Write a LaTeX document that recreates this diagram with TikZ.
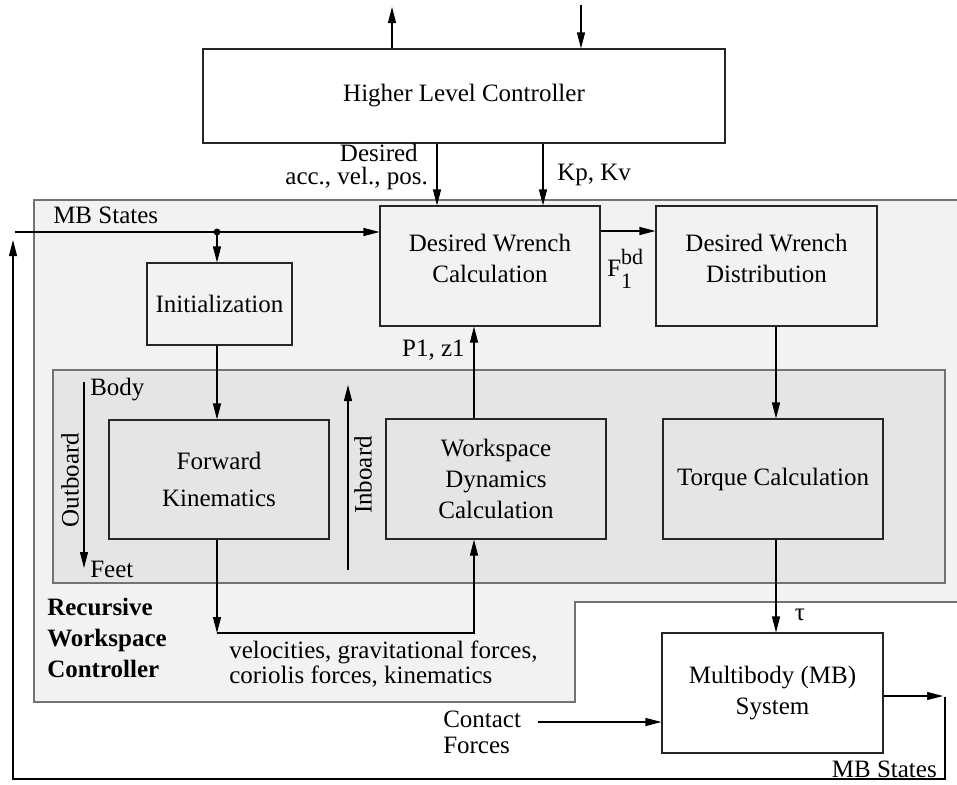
\documentclass[tikz,border=0pt]{standalone}
\usepackage{fontspec}
\setmainfont{Liberation Serif}
\usetikzlibrary{arrows.meta,calc}

\begin{document}
\begin{tikzpicture}[x=0.75pt,y=0.75pt,yscale=-1,xscale=1,
  font=\fontsize{18.75}{23.25}\selectfont,
  blk/.style={draw=black!85,line width=0.8pt,align=center,inner sep=0pt},
  arr/.style={line width=0.8pt,-{Triangle[length=12pt,width=6pt]}},
  region/.style={draw=black!55,line width=0.8pt}]
\useasboundingbox (0,0) rectangle (957,785);
%Shape: Polygon [outer region]
\draw [region,fill={rgb, 255:red, 242; green, 242; blue, 242 }] (34,200) -- (975,200) -- (975,602) -- (575,602) -- (575,702) -- (34,702) -- cycle ;
%Shape: Rectangle [inner region]
\draw [region,fill={rgb, 255:red, 229; green, 229; blue, 229 }] (53,370) rectangle (945,583) ;

%Shape: Rectangle
\node [blk,fill=white,minimum width=391.5pt,minimum height=70.5pt] (hlc) at (464,96) {Higher Level Controller};
\node [blk,fill={rgb, 255:red, 242; green, 242; blue, 242 },minimum width=165pt,minimum height=90pt] (dwc) at (490,266) {Desired Wrench\\Calculation\\[-11pt]};
\node [blk,fill={rgb, 255:red, 242; green, 242; blue, 242 },minimum width=165.75pt,minimum height=90pt] (dwd) at (766.5,266) {Desired Wrench\\Distribution\\[-11pt]};
\node [blk,fill={rgb, 255:red, 242; green, 242; blue, 242 },minimum width=108.75pt,minimum height=61.5pt] (init) at (219.5,304) {Initialization};
\node [blk,fill={rgb, 255:red, 229; green, 229; blue, 229 },minimum width=165pt,minimum height=89.25pt] (fk) at (219,479.5) {Forward\\[5pt]Kinematics};
\node [blk,fill={rgb, 255:red, 229; green, 229; blue, 229 },minimum width=165pt,minimum height=90pt] (wdc) at (496,479) {Workspace\\Dynamics\\Calculation};
\node [blk,fill={rgb, 255:red, 229; green, 229; blue, 229 },minimum width=165pt,minimum height=90pt] (tc) at (773,479) {Torque Calculation};
\node [blk,fill=white,minimum width=165.75pt,minimum height=90pt] (mb) at (772.5,693) {Multibody (MB)\\System};

%Text labels
\node [anchor=base east,inner sep=0pt] (desired) at (418,161) {Desired};
\node [anchor=base east,inner sep=0pt] (acc) at (428,184) {acc., vel., pos.};
\node [anchor=base west,inner sep=0pt] (kpkv) at (557,180) {Kp, Kv};
\node [anchor=base west,inner sep=0pt] (mbs) at (53,223) {MB States};
\node [anchor=base west,inner sep=0pt] (fbd) at (607,276) {F\rlap{\raisebox{9pt}{\fontsize{16.5}{18}\selectfont bd}}\raisebox{-9pt}{\fontsize{16.5}{18}\selectfont 1}};
\node [anchor=base east,inner sep=0pt] (p1z1) at (465,356) {P1, z1};
\node [anchor=base west,inner sep=0pt] (body) at (90,395) {Body};
\node [anchor=base west,inner sep=0pt] (feet) at (90,577) {Feet};
\node [rotate=90,inner sep=0pt] (outb) at (70,480) {Outboard};
\node [rotate=90,inner sep=0pt] (inb) at (363,475) {Inboard};
\node [anchor=base west,inner sep=0pt,align=left,font=\bfseries\fontsize{18.75}{23.25}\selectfont] (rwc) at (47,677) {Recursive\\Workspace\\Controller};
\node [anchor=base west,inner sep=0pt,align=left,font=\fontsize{18.75}{18.75}\selectfont] (vel) at (229,683) {velocities, gravitational forces,\\coriolis forces, kinematics};
\node [anchor=base west,inner sep=0pt,align=left,font=\fontsize{18.75}{19.5}\selectfont] (contact) at (443,753) {Contact\\Forces};
\node [inner sep=0pt] (tau) at (800,615) {τ};
\node [anchor=base east,inner sep=0pt] (mbs2) at (937,777) {MB States};

%Coordinates
\coordinate (outA) at (392,7);
\coordinate (inA) at (581,5);
\coordinate (xd) at (437,0);
\coordinate (xk) at (543,0);
\coordinate (fbL) at (15,232);
\coordinate (dot) at (217,232);
\coordinate (yF) at (0,231);
\coordinate (lpL) at (217,633);
\coordinate (lpR) at (474,633);
\coordinate (xt) at (776,0);
\coordinate (cf) at (538,722);
\coordinate (fbR) at (943,696);
\coordinate (fbRT) at (945,697);
\coordinate (fbRB) at (945,779);
\coordinate (fbLB) at (13,779);
\coordinate (fbLT) at (13,240);
\coordinate (obT) at (84,382);
\coordinate (obB) at (84,568);
\coordinate (ibB) at (348,570);
\coordinate (ibT) at (348,385);

%Straight Lines
\draw [arr] (hlc.north -| outA) -- (outA) ;
\draw [arr] (inA) -- (hlc.north -| inA) ;
\draw [arr] (hlc.south -| xd) -- (dwc.north -| xd) ;
\draw [arr] (hlc.south -| xk) -- (dwc.north -| xk) ;
\draw [arr] (fbL) -- (dwc.west |- fbL) ;
\fill (dot) circle [radius=2.6pt] ;
\draw [arr] (dot) -- (init.north -| dot) ;
\draw [arr] (init.south -| dot) -- (fk.north -| dot) ;
\draw [arr] (fk.south -| lpL) -- (lpL) ;
\draw [arr] (lpL) -- (lpR) -- (wdc.south -| lpR) ;
\draw [arr] (wdc.north -| lpR) -- (dwc.south -| lpR) ;
\draw [arr] (dwc.east |- yF) -- (dwd.west |- yF) ;
\draw [arr] (dwd.south -| xt) -- (tc.north -| xt) ;
\draw [arr] (tc.south -| xt) -- (mb.north -| xt) ;
\draw [arr] (cf) -- (mb.west |- cf) ;
\draw [arr] (mb.east |- fbR) -- (fbR) ;
\draw [arr] (fbRT) -- (fbRB) -- (fbLB) -- (fbLT) ;
\draw [arr] (obT) -- (obB) ;
\draw [arr] (ibB) -- (ibT) ;
\end{tikzpicture}
\end{document}
